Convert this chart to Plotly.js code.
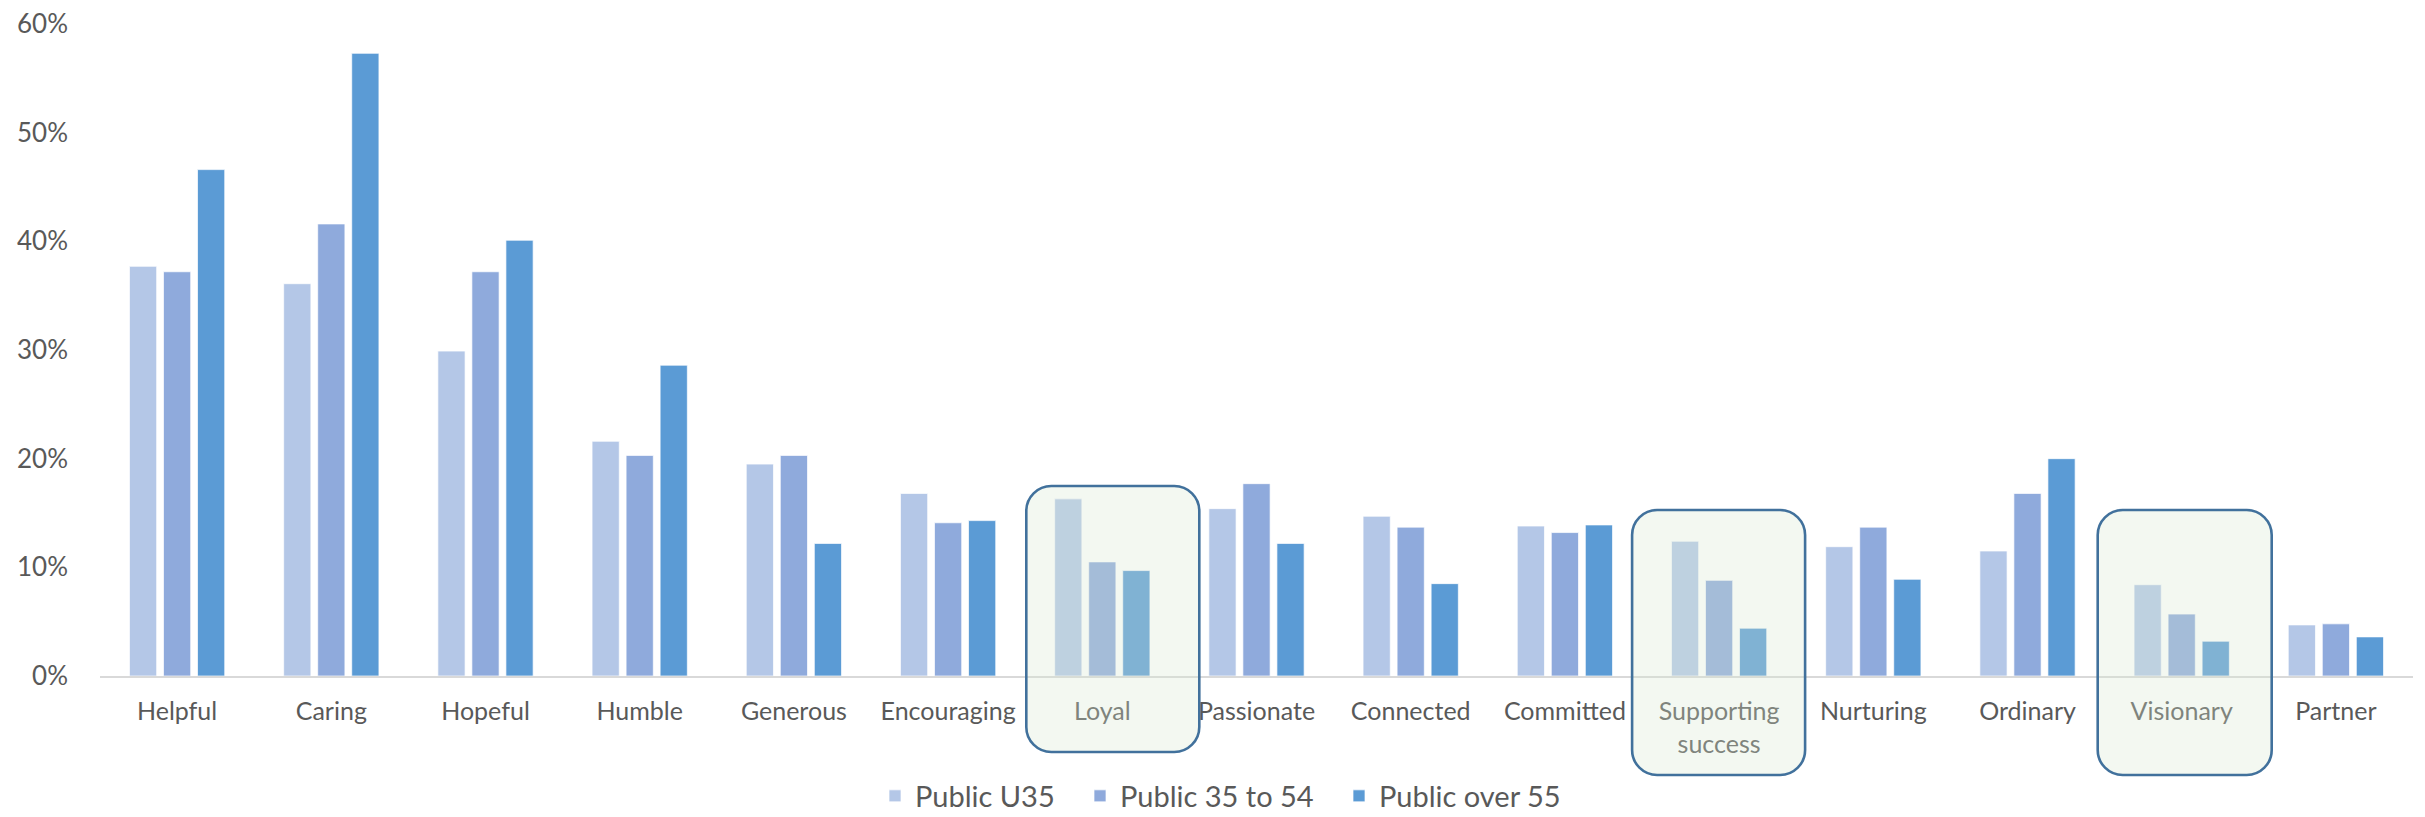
<!DOCTYPE html>
<html><head><meta charset="utf-8">
<script src="https://cdn.plot.ly/plotly-3.0.1.min.js"></script>
<style>html,body{margin:0;padding:0;background:#fff;} #chart{width:2425px;height:817px;}</style>
</head><body><div id="chart"></div>
<script>
// ---- data ----
const categories = ['Helpful','Caring','Hopeful','Humble','Generous','Encouraging','Loyal','Passionate','Connected','Committed','Supporting success','Nurturing','Ordinary','Visionary','Partner'];
const tickLabels = ['Helpful','Caring','Hopeful','Humble','Generous','Encouraging','Loyal','Passionate','Connected','Committed','Supporting<br>success','Nurturing','Ordinary','Visionary','Partner'];
const seriesNames = ['Public U35','Public 35 to 54','Public over 55'];
const publicU35    = [0.377,0.361,0.299,0.216,0.195,0.168,0.163,0.154,0.147,0.138,0.124,0.119,0.115,0.084,0.047];
const public35to54 = [0.372,0.416,0.372,0.203,0.203,0.141,0.105,0.177,0.137,0.132,0.088,0.137,0.168,0.057,0.048];
const publicOver55 = [0.466,0.573,0.401,0.286,0.122,0.143,0.097,0.122,0.085,0.139,0.044,0.089,0.200,0.032,0.036];
const highlighted  = ['Loyal','Supporting success','Visionary'];

// ---- styling ----
const colors = ['#B4C7E7','#8FAADC','#5B9BD5'];
const W = 2425, H = 817;
const M = {l:100, r:12, t:24, b:141, autoexpand:false};
const plotW = W - M.l - M.r, plotH = H - M.t - M.b;
// box extents in px relative to category centre / baseline: [left, right, top, bottom]
const boxPx = [[-76,97,190,76],[-87,86,166,99],[-84,90,166,99]];
const radius = 25;
const fontFam = 'Lato, "Open Sans", sans-serif';
const txtColor = '#595959';

const seriesVals = [publicU35, public35to54, publicOver55];
const legendIds = ['legend','legend2','legend3'];
const traces = seriesVals.map((v,i)=>({
  type:'bar', x:categories, y:v, name:seriesNames[i],
  marker:{color:colors[i], line:{color:'rgba(255,255,255,0.7)', width:1}},
  legend: legendIds[i], hoverinfo:'skip'
}));

function roundedPath(x0,x1,y0,y1){
  const rx = radius/plotW, ry = radius/plotH, k = 0.5523;
  const f = n => n.toFixed(6);
  return 'M'+f(x0+rx)+','+f(y1)+
    ' L'+f(x1-rx)+','+f(y1)+
    ' C'+f(x1-rx+rx*k)+','+f(y1)+' '+f(x1)+','+f(y1-ry+ry*k)+' '+f(x1)+','+f(y1-ry)+
    ' L'+f(x1)+','+f(y0+ry)+
    ' C'+f(x1)+','+f(y0+ry-ry*k)+' '+f(x1-rx+rx*k)+','+f(y0)+' '+f(x1-rx)+','+f(y0)+
    ' L'+f(x0+rx)+','+f(y0)+
    ' C'+f(x0+rx-rx*k)+','+f(y0)+' '+f(x0)+','+f(y0+ry-ry*k)+' '+f(x0)+','+f(y0+ry)+
    ' L'+f(x0)+','+f(y1-ry)+
    ' C'+f(x0)+','+f(y1-ry+ry*k)+' '+f(x0+rx-rx*k)+','+f(y1)+' '+f(x0+rx)+','+f(y1)+' Z';
}
const shapes = highlighted.map((c,j)=>{
  const idx = categories.indexOf(c);
  const cx = (idx+0.5)/categories.length;
  const b = boxPx[j];
  return {type:'path', xref:'paper', yref:'paper', layer:'above',
    path: roundedPath(cx + b[0]/plotW, cx + b[1]/plotW, -b[3]/plotH, b[2]/plotH),
    fillcolor:'rgba(214,232,210,0.3)', line:{color:'#41719C', width:2.6}};
});

const legendX = [875, 1080, 1339];
const legendBase = {orientation:'h', xanchor:'left', yanchor:'middle', y:-(796-(H-M.b))/plotH,
  font:{family:fontFam, size:29, color:txtColor}, bgcolor:'rgba(0,0,0,0)'};
const layout = {
  width:W, height:H, margin:M, paper_bgcolor:'#fff', plot_bgcolor:'#fff',
  barmode:'group', bargap:0.338, bargroupgap:0.2,
  font:{family:fontFam, size:25, color:txtColor},
  xaxis:{type:'category', tickmode:'array', tickvals:categories, ticktext:tickLabels,
    showline:true, linecolor:'#D9D9D9', linewidth:2, ticks:'', showgrid:false, zeroline:false,
    tickfont:{family:fontFam, size:25, color:txtColor}, ticklabelstandoff:12, range:[-0.5,14.5]},
  yaxis:{range:[0,0.6], dtick:0.1, tickformat:'.0%', showgrid:false, zeroline:false, showline:false,
    ticks:'', tickfont:{family:fontFam, size:26, color:txtColor}, ticklabelstandoff:31},
  showlegend:true,
  legend:Object.assign({}, legendBase, {x:(legendX[0]-M.l)/plotW}),
  legend2:Object.assign({}, legendBase, {x:(legendX[1]-M.l)/plotW}),
  legend3:Object.assign({}, legendBase, {x:(legendX[2]-M.l)/plotW}),
  shapes:shapes
};
Plotly.newPlot('chart', traces, layout, {staticPlot:true, displayModeBar:false});
</script></body></html>
